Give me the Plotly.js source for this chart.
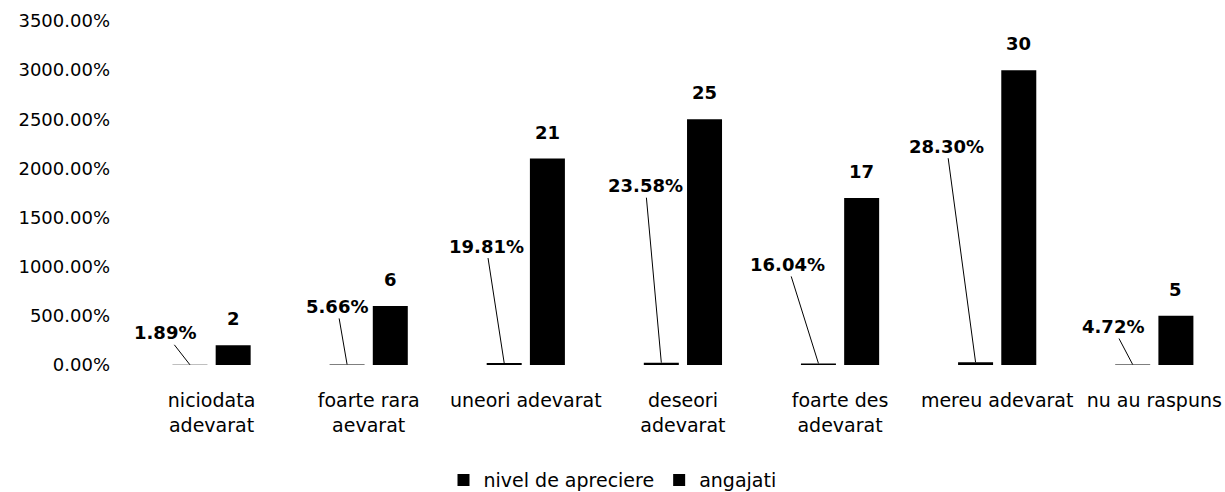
<!DOCTYPE html>
<html>
<head>
<meta charset="utf-8">
<script src="https://cdn.plot.ly/plotly-3.0.1.min.js"></script>
<style>html,body{margin:0;padding:0;background:#fff;}#chart{width:1225px;height:492px;}</style>
</head>
<body>
<div id="chart"></div>
<script>
// ---- data ----
const categories = ['niciodata adevarat', 'foarte rara aevarat', 'uneori adevarat', 'deseori adevarat', 'foarte des adevarat', 'mereu adevarat', 'nu au raspuns'];
const tickLabels = ['niciodata<br>adevarat', 'foarte rara<br>aevarat', 'uneori adevarat', 'deseori<br>adevarat', 'foarte des<br>adevarat', 'mereu adevarat', 'nu au raspuns'];
const nivelApreciere = [0.0189, 0.0566, 0.1981, 0.2358, 0.1604, 0.2830, 0.0472];
const angajati = [2, 6, 21, 25, 17, 30, 5];
const seriesNames = ['nivel de apreciere', 'angajati'];

// ---- styling / label placement (pixel offsets of the leader-lined labels) ----
const nivelLabelOffsets = [[-25, -32], [-10, -58], [-18, -117], [-16, -177], [-31, -99], [-29, -216], [-20, -38]];
const FONT = 'DejaVu Sans';
const bargap = 0.45;
const slotOffset = (1 - bargap) / 4;

const traces = [
  {type: 'bar', name: seriesNames[0], x: categories, y: nivelApreciere, marker: {color: '#000'}, hoverinfo: 'none'},
  {type: 'bar', name: seriesNames[1], x: categories, y: angajati, marker: {color: '#000'}, hoverinfo: 'none'}
];

const annotations = [];
nivelApreciere.forEach((v, i) => {
  annotations.push({
    x: i - slotOffset, y: v, xref: 'x', yref: 'y',
    text: '<b>' + (v * 100).toFixed(2) + '%</b>',
    showarrow: true, arrowhead: 0, arrowwidth: 1, arrowcolor: '#000', standoff: 0,
    ax: nivelLabelOffsets[i][0], ay: nivelLabelOffsets[i][1],
    font: {family: FONT, size: 18, color: '#000'}
  });
});
angajati.forEach((v, i) => {
  annotations.push({
    x: i + slotOffset, y: v, xref: 'x', yref: 'y',
    text: '<b>' + v + '</b>', showarrow: false,
    yanchor: 'bottom', yshift: 14,
    font: {family: FONT, size: 18, color: '#000'}
  });
});

const layout = {
  width: 1225, height: 492,
  margin: {l: 133, r: 0, t: 21, b: 127},
  paper_bgcolor: '#fff', plot_bgcolor: '#fff',
  font: {family: FONT, size: 18, color: '#000'},
  barmode: 'group', bargap: bargap, bargroupgap: 0.19,
  xaxis: {
    type: 'category', range: [-0.5, 6.45],
    tickvals: categories, ticktext: tickLabels,
    showgrid: false, zeroline: false, showline: false, ticks: '',
    ticklabelstandoff: 22,
    tickfont: {family: FONT, size: 19, color: '#000'}
  },
  yaxis: {
    range: [0, 35], dtick: 5, tick0: 0, tickformat: '.2%',
    showgrid: false, zeroline: false, showline: false, ticks: '',
    ticklabelstandoff: 22,
    tickfont: {family: FONT, size: 18, color: '#000'}
  },
  showlegend: true,
  legend: {
    orientation: 'h', x: 0.5, xref: 'container', xanchor: 'center',
    y: 0.024, yref: 'container', yanchor: 'middle',
    font: {family: FONT, size: 19, color: '#000'},
    itemwidth: 30, traceorder: 'normal'
  },
  annotations: annotations
};

Plotly.newPlot('chart', traces, layout, {displayModeBar: false, staticPlot: true});
</script>
</body>
</html>
